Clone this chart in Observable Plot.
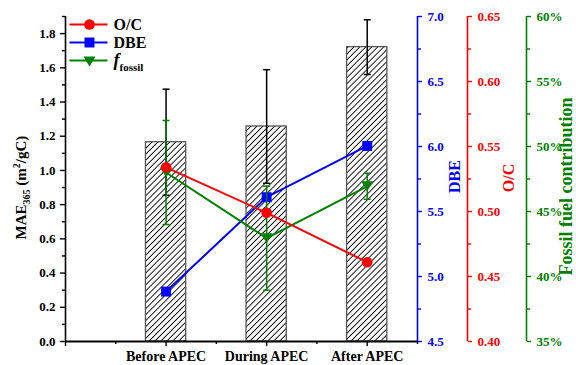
<!DOCTYPE html>
<html><head><meta charset="utf-8">
<script src="https://cdn.jsdelivr.net/npm/d3@7"></script>
<script src="https://cdn.jsdelivr.net/npm/@observablehq/plot@0.6"></script>
<style>
body{margin:0;background:#fff}
#chart{width:576px;height:365px;overflow:hidden}
</style>
</head><body><div id="chart"></div>
<script>
// ---- data ----
const categories = ["Before APEC", "During APEC", "After APEC"];
const mae = [1.165, 1.257, 1.721];
const maeErr = [0.31, 0.332, 0.16];
const oc = [0.534, 0.499, 0.461];
const dbe = [4.884, 5.61, 6.004];
const fossil = [48.0, 42.95, 46.94];
const fossilErr = [4.0, 4.0, 1.0];

const maeTicks = [0, 0.2, 0.4, 0.6, 0.8, 1.0, 1.2, 1.4, 1.6, 1.8];
const maeMinor = [0.1, 0.3, 0.5, 0.7, 0.9, 1.1, 1.3, 1.5, 1.7, 1.9];
const dbeTicks = [4.5, 5.0, 5.5, 6.0, 6.5, 7.0];
const dbeMinor = [4.75, 5.25, 5.75, 6.25, 6.75];
const ocTicks = [0.40, 0.45, 0.50, 0.55, 0.60, 0.65];
const ocMinor = [0.425, 0.475, 0.525, 0.575, 0.625];
const fossilTicks = [35, 40, 45, 50, 55, 60];
const fossilMinor = [37.5, 42.5, 47.5, 52.5, 57.5];
const legendItems = [
  {label: "O/C", color: "#ff0000", symbol: "circle"},
  {label: "DBE", color: "#0000ff", symbol: "square"},
  {label: "ffossil", color: "#008000", symbol: "tri"}
];

// ---- mapping of secondary axes onto the MAE scale 0..1.9 ----
const YMAX = 1.9;
const dbeY = v => (v - 4.5) / 2.5 * YMAX;
const ocY = v => (v - 0.40) / 0.25 * YMAX;
const fossilY = v => (v - 35) / 25 * YMAX;

const rows = categories.map((c, i) => ({
  x: i + 1, cat: c, mae: mae[i], maeErr: maeErr[i], oc: oc[i], dbe: dbe[i],
  fossil: fossil[i], fossilErr: fossilErr[i]
}));

const BLUE = "#0000ff", RED = "#ff0000", GREEN = "#008000";
const hline = w => ({draw(ctx) { ctx.moveTo(-w, 0); ctx.lineTo(w, 0); }});
const triDown = {draw(ctx) { const w = 6, h = 10; ctx.moveTo(-w, -h / 2); ctx.lineTo(w, -h / 2); ctx.lineTo(0, h / 2); ctx.closePath(); }};
const FONT = "'Liberation Serif', 'Times New Roman', serif";

const rightAxis = (ticks, minor, map, fmt, color, dx) => [
  Plot.ruleX([3.5], {dx, stroke: color, strokeWidth: 1.6}),
  Plot.axisY(ticks.map(map), {anchor: "right", dx, tickSize: 4, tickPadding: 6, color, fontSize: 13, fontWeight: "bold", fontFamily: FONT, tickFormat: fmt, label: null, strokeWidth: 1.4}),
  Plot.axisY(minor.map(map), {anchor: "right", dx, tickSize: 3, color, tickFormat: () => "", label: null, strokeWidth: 1.4})
];

const legendMarks = legendItems.flatMap((it, i) => {
  const dy = 8 + i * 18;
  const marks = [
    Plot.dot([0], {frameAnchor: "top-left", dx: 23, dy, symbol: hline(19), fill: "none", stroke: it.color, strokeWidth: 2})
  ];
  if (it.symbol === "circle") marks.push(Plot.dot([0], {frameAnchor: "top-left", dx: 24, dy, r: 5.3, fill: it.color, stroke: "none"}));
  else if (it.symbol === "square") marks.push(Plot.dot([0], {frameAnchor: "top-left", dx: 24, dy, symbol: "square", r: 5.6, fill: it.color, stroke: "none"}));
  else marks.push(Plot.dot([0], {frameAnchor: "top-left", dx: 24, dy: dy + 1, symbol: triDown, fill: it.color, stroke: "none"}));
  marks.push(Plot.text([it.label], {frameAnchor: "top-left", dx: 48, dy, text: d => d, textAnchor: "start", lineAnchor: "middle", fontSize: 16, fontWeight: "bold", fontFamily: FONT, fill: "black"}));
  return marks;
});

const title = (label, frameAnchor, dx, dy, size, fill) =>
  Plot.text([label], {frameAnchor, dx, dy, rotate: -90, text: d => d, textAnchor: "middle", lineAnchor: "middle", fontSize: size, fontWeight: "bold", fontFamily: FONT, fill});

const chart = Plot.plot({
  width: 576, height: 365,
  marginLeft: 65, marginRight: 159, marginTop: 16, marginBottom: 24,
  style: {fontFamily: FONT, fontWeight: "bold", fontSize: "13px", background: "white", color: "black"},
  x: {type: "linear", domain: [0, 3.5]},
  y: {domain: [0, YMAX]},
  marks: [
    // bars
    Plot.rect(rows, {x1: d => d.x - 0.2, x2: d => d.x + 0.2, y1: d => 0, y2: "mae", fill: "url(#hatch)", stroke: "#555", strokeWidth: 1.3}),
    // bar error bars
    Plot.ruleX(rows, {x: "x", y1: d => d.mae - d.maeErr, y2: d => d.mae + d.maeErr, stroke: "black", strokeWidth: 1.5}),
    Plot.dot(rows, {x: "x", y: d => d.mae + d.maeErr, symbol: hline(3.5), fill: "none", stroke: "black", strokeWidth: 1.5}),
    Plot.dot(rows, {x: "x", y: d => d.mae - d.maeErr, symbol: hline(3.5), fill: "none", stroke: "black", strokeWidth: 1.5}),
    // DBE
    Plot.line(rows, {x: "x", y: d => dbeY(d.dbe), stroke: BLUE, strokeWidth: 2}),
    Plot.dot(rows, {x: "x", y: d => dbeY(d.dbe), symbol: "square", r: 5.6, fill: BLUE, stroke: "none"}),
    // fossil
    Plot.line(rows, {x: "x", y: d => fossilY(d.fossil), stroke: GREEN, strokeWidth: 2}),
    Plot.dot(rows, {x: "x", y: d => fossilY(d.fossil), symbol: triDown, fill: GREEN, stroke: "none"}),
    Plot.ruleX(rows, {x: "x", y1: d => fossilY(d.fossil - d.fossilErr), y2: d => fossilY(d.fossil + d.fossilErr), stroke: GREEN, strokeWidth: 1.5}),
    Plot.dot(rows, {x: "x", y: d => fossilY(d.fossil + d.fossilErr), symbol: hline(3.5), fill: "none", stroke: GREEN, strokeWidth: 1.5}),
    Plot.dot(rows, {x: "x", y: d => fossilY(d.fossil - d.fossilErr), symbol: hline(3.5), fill: "none", stroke: GREEN, strokeWidth: 1.5}),
    // O/C
    Plot.line(rows, {x: "x", y: d => ocY(d.oc), stroke: RED, strokeWidth: 2}),
    Plot.dot(rows, {x: "x", y: d => ocY(d.oc), r: 5.3, fill: RED, stroke: "none"}),
    // left axis
    Plot.ruleX([0], {stroke: "black", strokeWidth: 1.6}),
    Plot.axisY(maeTicks, {anchor: "left", tickSize: 5, tickPadding: 5, fontSize: 13, fontWeight: "bold", fontFamily: FONT, tickFormat: d3.format(".1f"), label: null, strokeWidth: 1.4}),
    Plot.axisY(maeMinor, {anchor: "left", tickSize: 3, tickFormat: () => "", label: null, strokeWidth: 1.4}),
    // bottom axis
    Plot.ruleY([0], {stroke: "black", strokeWidth: 2.2}),
    Plot.axisX([0, 1, 2, 3], {tickSize: 5, tickPadding: 5, fontSize: 14, fontWeight: "bold", fontFamily: FONT, tickFormat: d => categories[d - 1] ?? "", label: null, strokeWidth: 1.4}),
    Plot.axisX([0.5, 1.5, 2.5, 3.5], {tickSize: 3, tickFormat: () => "", label: null, strokeWidth: 1.4}),
    // right axes
    ...rightAxis(dbeTicks, dbeMinor, dbeY, d => (4.5 + d / YMAX * 2.5).toFixed(1), BLUE, 0),
    ...rightAxis(ocTicks, ocMinor, ocY, d => (0.40 + d / YMAX * 0.25).toFixed(2), RED, 50),
    ...rightAxis(fossilTicks, fossilMinor, fossilY, d => Math.round(35 + d / YMAX * 25) + "%", GREEN, 109),
    // axis titles
    title("MAE365 (m2/gC)", "left", -44, 8.5, 15, "black"),
    title("DBE", "right", 37, -2.5, 16, BLUE),
    title("O/C", "right", 91, -1, 16, RED),
    title("Fossil fuel contribution", "right", 148.5, 7.5, 18, GREEN),
    // legend
    ...legendMarks
  ]
});

const svg = chart.tagName.toLowerCase() === "svg" ? chart : chart.querySelector("svg");
svg.setAttribute("font-family", FONT);
const ns = "http://www.w3.org/2000/svg";
const defs = document.createElementNS(ns, "defs");
defs.innerHTML = '<pattern id="hatch" patternUnits="userSpaceOnUse" width="4.2" height="4.2" patternTransform="rotate(45)"><rect width="4.2" height="4.2" fill="white"/><line x1="2.1" y1="0" x2="2.1" y2="4.2" stroke="black" stroke-width="0.9"/></pattern>';
svg.insertBefore(defs, svg.firstChild);

svg.querySelectorAll("text").forEach(t => {
  if (t.textContent === "MAE365 (m2/gC)") {
    t.innerHTML = 'MAE<tspan font-size="10" dy="4">365</tspan><tspan dy="-4"> (m</tspan><tspan font-size="10" dy="-6">2</tspan><tspan dy="6">/gC)</tspan>';
  } else if (t.textContent === "ffossil") {
    t.innerHTML = '<tspan font-style="italic" font-size="18">f</tspan><tspan font-size="11" dy="5">fossil</tspan>';
  }
});
document.getElementById("chart").appendChild(chart);
</script>
</body></html>
